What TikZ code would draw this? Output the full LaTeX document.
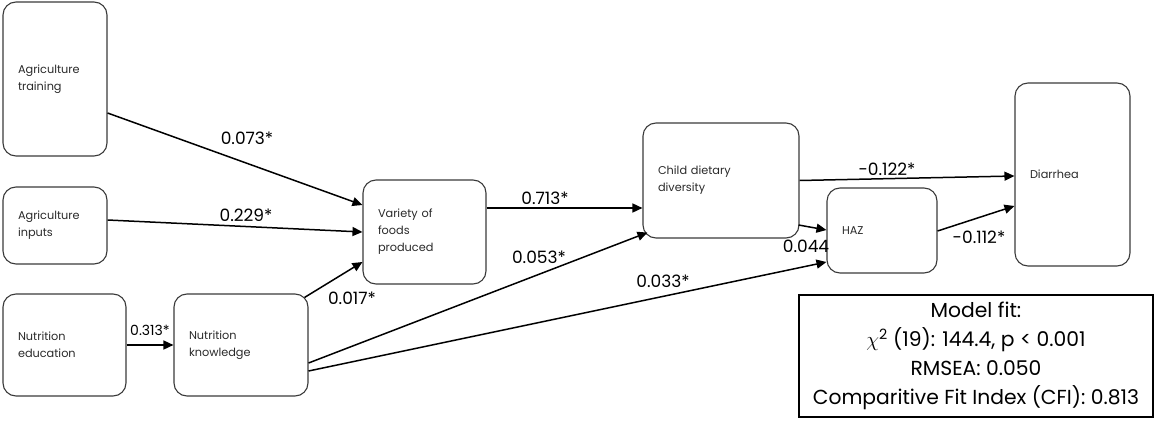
\documentclass[tikz,border=0pt]{standalone}
\usepackage{fontspec}
\setmainfont{Poppins}
\usetikzlibrary{arrows.meta}
\definecolor{boxgray}{HTML}{3A3A3A}
\definecolor{textgray}{HTML}{2A2A2A}
\newcommand{\boxfont}{\fontsize{11.3}{17}\selectfont}
\newcommand{\coeffont}{\fontsize{17}{18}\selectfont}
\newcommand{\smallcoeffont}{\fontsize{14}{15}\selectfont}
\newcommand{\fitfont}{\fontsize{20.3}{29}\selectfont}
\begin{document}
\begin{tikzpicture}[x=1pt,y=-1pt,
  box/.style={draw=boxgray, line width=1.1pt, rounded corners=13pt,
    inner xsep=15pt, inner ysep=0pt, align=left, font=\boxfont, text=textgray},
  arr/.style={-{Triangle[length=10pt,width=9pt]}, line width=1.5pt, black},
  coef/.style={font=\coeffont, text=black, inner sep=0pt},
  fitbox/.style={draw=black, line width=1.4pt, align=center, font=\fitfont,
    inner sep=0pt, text=black}]
\useasboundingbox (0,0) rectangle (1160,423);

% variables of the path model
\node[box, text width=74pt, minimum height=154pt] (agtrain) at (55,79) {Agriculture\\training};
\node[box, text width=74pt, minimum height=77pt] (aginp) at (55,225.5) {Agriculture\\inputs};
\node[box, text width=93pt, minimum height=102pt] (nutedu) at (64.5,345) {Nutrition\\education};
\node[box, text width=104pt, minimum height=102pt] (nutknow) at (241,345) {Nutrition\\knowledge};
\node[box, text width=93pt, minimum height=104pt] (variety) at (424.5,232) {Variety of\\foods\\produced};
\node[box, text width=126pt, minimum height=115pt] (child) at (721,180.5) {Child dietary\\diversity};
\node[box, text width=80pt, minimum height=85pt] (haz) at (882,230.5) {HAZ};
\node[box, text width=85pt, minimum height=183pt] (diarrhea) at (1072.5,174.5) {Diarrhea};

% model fit summary
\node[fitbox, minimum width=354pt, minimum height=122pt] (fit) at (976,356)
  {Model fit:\\ $\chi$\textsuperscript{2} (19): 144.4, p < 0.001\\ RMSEA: 0.050\\ Comparitive Fit Index (CFI): 0.813};

% paths
\draw[arr] ([yshift=-34pt]agtrain.east) -- ([yshift=27pt]variety.west);
\draw[arr] ([yshift=5.5pt]aginp.east) -- (variety.west);
\draw[arr] ([xshift=-4pt,yshift=-4pt]nutknow.north east) -- ([yshift=-30pt]variety.west);
\draw[arr] (nutedu.east) -- (nutknow.west);
\draw[arr] ([yshift=24pt]variety.east) -- ([yshift=-27.5pt]child.west);
\draw[arr] ([yshift=-18pt]nutknow.east) -- ([xshift=5pt,yshift=6pt]child.south west);
\draw[arr] ([yshift=-26pt]nutknow.east) -- ([yshift=-31.5pt]haz.west);
\draw[arr] ([xshift=-1pt,yshift=-44.5pt]child.east) -- ([yshift=0.5pt]haz.west);
\draw[arr] (child.east) -- ([yshift=-1.5pt]diarrhea.west);
\draw[arr] ([yshift=-0.5pt]haz.east) -- ([yshift=-31.5pt]diarrhea.west);

% path coefficients
\node[coef] (c1) at (247,138) {0.073*};
\node[coef] (c2) at (246,215) {0.229*};
\node[coef] (c3) at (352,298) {0.017*};
\node[coef, font=\smallcoeffont] (c4) at (150,330) {0.313*};
\node[coef] (c5) at (545,198) {0.713*};
\node[coef] (c6) at (539,257) {0.053*};
\node[coef] (c7) at (663,281) {0.033*};
\node[coef] (c8) at (806,246) {0.044};
\node[coef] (c9) at (887,169) {-0.122*};
\node[coef] (c10) at (979,237) {-0.112*};
\end{tikzpicture}
\end{document}
